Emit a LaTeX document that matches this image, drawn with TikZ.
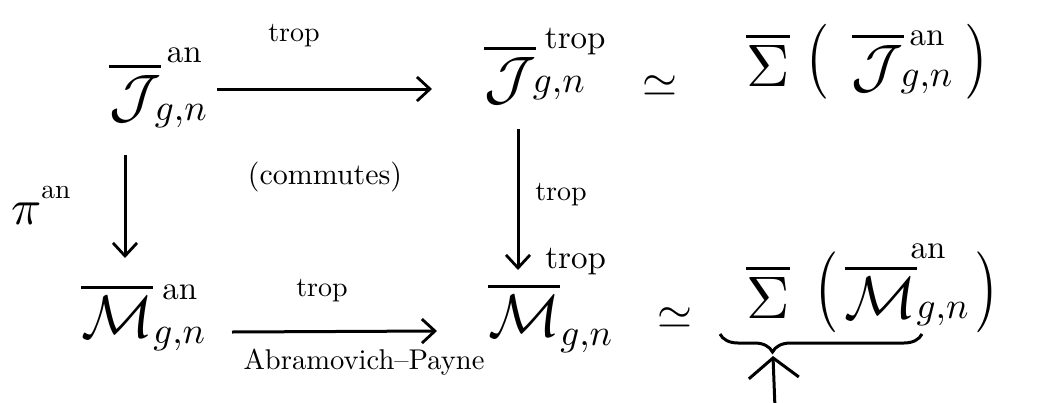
\documentclass[tikz,border=0pt]{standalone}
\usepackage{amsmath}
\usepackage{graphicx}
\usetikzlibrary{arrows.meta,decorations.pathreplacing}

% nucleus with a subscript and a raised superscript label, placed by hand:
% #1 nucleus, #2 kern of sub, #3 raise of sub, #4 sub, #5 kern of sup, #6 raise of sup, #7 sup
\newcommand\deco[7]{$#1$\rlap{\hspace{#5}\raisebox{#6}{\scalebox{0.55}{#7}}}\hspace{#2}\raisebox{#3}{\scalebox{0.62}{$#4$}}}
\newcommand\gn{g{,}n}
% tall parentheses
\newcommand\tlp[1]{\raisebox{1pt}{\scalebox{1}[#1]{(}}}
\newcommand\trp[1]{\raisebox{1pt}{\scalebox{1}[#1]{)}}}

\tikzset{
  obj/.style={inner sep=0pt, anchor=base west, scale=6},
  eqs/.style={inner sep=0pt, anchor=center, scale=4.5},
  lbl/.style={inner sep=0pt, scale=2.8},
  arr/.style={line width=3pt, -{Straight Barb[length=13pt,width=24pt,line width=2.8pt]}},
  tiparr/.style={line width=3pt, -{Straight Barb[length=20pt,width=50pt,line width=3pt]}},
  bracestyle/.style={line width=3pt, decorate,
    decoration={brace, mirror, amplitude=18pt, aspect=0.26}}
}

\begin{document}
\begin{tikzpicture}[x=1pt, y=-1pt]
  \fill[white] (0,0) rectangle (1042,402);
  \useasboundingbox (0,0) rectangle (1042,402);

  % objects of the square
  \node[obj] (J1) at (108,116) {\deco{\overline{\mathcal{J}}}{-1pt}{-0.7pt}{\gn}{1pt}{9pt}{an}};
  \node[obj] (J2) at (483,98)  {\deco{\overline{\mathcal{J}}}{-0.5pt}{1pt}{\gn}{1.5pt}{8.3pt}{trop}};
  \node[obj] (M1) at (80,337)  {\deco{\overline{\mathcal{M}}}{0pt}{-1pt}{\gn}{1.5pt}{6.2pt}{an}};
  \node[obj] (M2) at (487,336) {\deco{\overline{\mathcal{M}}}{0pt}{-1.5pt}{\gn}{-2.5pt}{11.3pt}{trop}};

  % identifications with the tropical skeletons
  \node[eqs] (E1) at (660,86)  {$\simeq$};
  \node[obj] (S1) at (745,86)  {$\overline{\Sigma}$\hspace{2.8pt}\tlp{1.25}\hspace{3.7pt}\deco{\overline{\mathcal{J}}}{-0.5pt}{0pt}{\gn}{1pt}{6.8pt}{an}\hspace{2pt}\trp{1.25}};
  \node[eqs] (E2) at (675,318) {$\simeq$};
  \node[obj] (S2) at (745,318) {$\overline{\Sigma}$\hspace{4.3pt}\tlp{1.35}\hspace{1pt}\deco{\overline{\mathcal{M}}}{0pt}{0pt}{\gn}{-1pt}{10pt}{an}\hspace{1pt}\trp{1.35}};

  % arrows of the square
  \draw[arr] ([xshift=109pt,yshift=27pt]J1.base west) -- ([xshift=-51pt,yshift=9pt]J2.base west);
  \draw[arr] ([xshift=17pt,yshift=-39pt]J1.base west) -- ([xshift=45pt,yshift=79pt]M1.base west);
  \draw[arr] ([xshift=35pt,yshift=-31pt]J2.base west) -- ([xshift=31pt,yshift=66pt]M2.base west);
  \draw[arr] ([xshift=152pt,yshift=5pt]M1.base west) -- ([xshift=-50pt,yshift=5pt]M2.base west);

  % arrow labels
  \node[lbl] (t1) at (294,36)  {trop};
  \node[lbl] (t2) at (561,195) {trop};
  \node[lbl] (t3) at (322,291) {trop};
  \node[lbl, scale=1.02] (ap) at (364,362) {Abramovich--Payne};
  \node[lbl, scale=1.07] (cm) at (325,177) {(commutes)};
  \node[inner sep=0pt, anchor=base west, scale=5] (pi) at (10,224) {$\pi$\raisebox{5.2pt}{\scalebox{0.55}{an}}};

  % brace under the skeleton of the moduli space
  \draw[bracestyle] ([xshift=-25pt,yshift=-16pt]S2.base west) -- ([xshift=177pt,yshift=-16pt]S2.base west);
  \coordinate (tip) at ([xshift=28pt,yshift=-38pt]S2.base west);
  \coordinate (foot) at ([xshift=30pt,yshift=-90pt]S2.base west);
  \draw[tiparr] (foot) -- (tip);
\end{tikzpicture}
\end{document}
